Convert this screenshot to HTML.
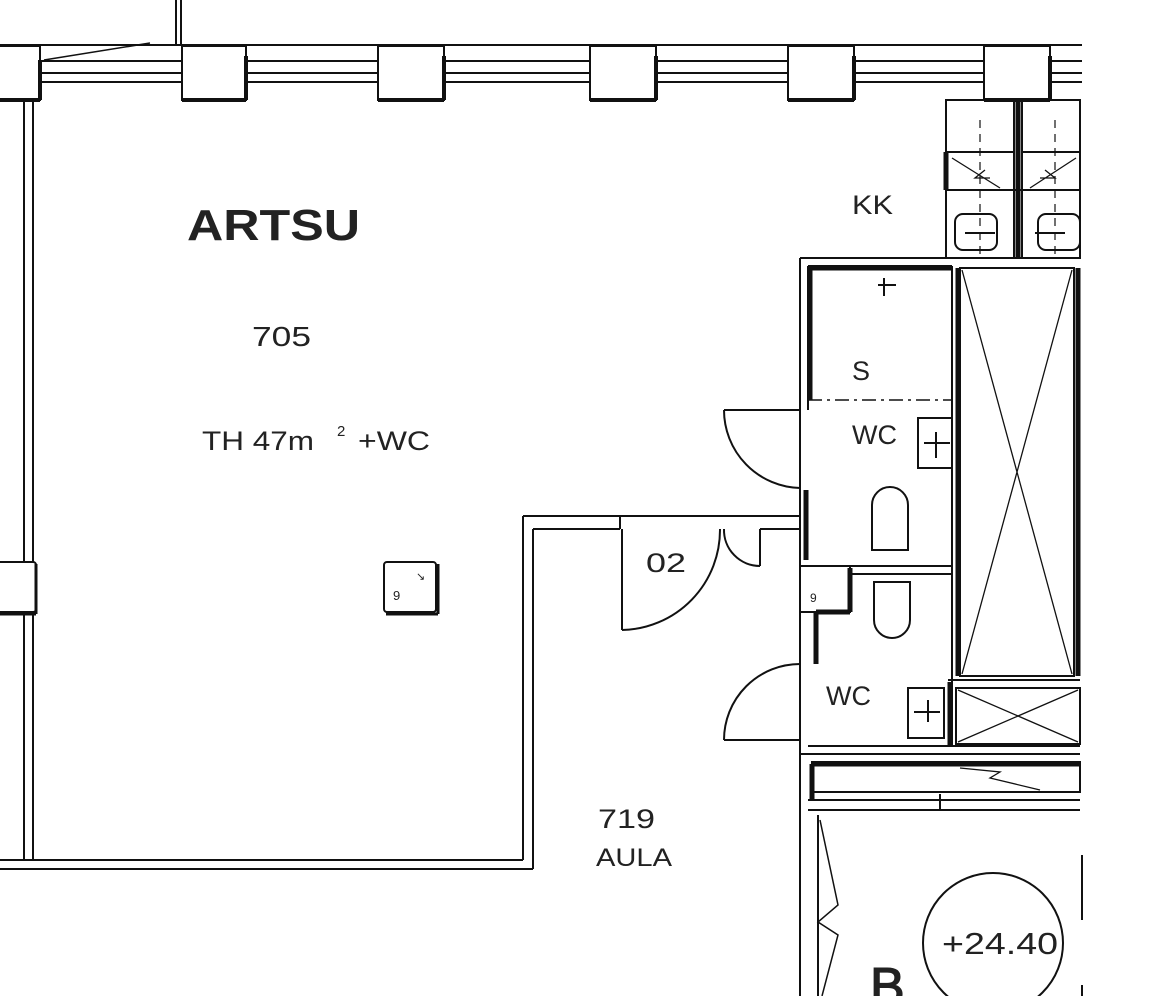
<!DOCTYPE html>
<html><head><meta charset="utf-8"><style>
html,body{margin:0;padding:0;background:#fff;}
svg{display:block}
text{font-family:"Liberation Sans",sans-serif;fill:#222}
</style></head><body>
<svg width="1152" height="996" viewBox="0 0 1152 996" xmlns="http://www.w3.org/2000/svg">
<g fill="none" stroke="#111" stroke-width="2">
<line x1="176" y1="0" x2="176" y2="44"/><line x1="181" y1="0" x2="181" y2="44"/>
<line x1="0" y1="45" x2="1082" y2="45"/>
<line x1="40" y1="61" x2="1082" y2="61"/>
<line x1="40" y1="73" x2="1082" y2="73"/>
<line x1="40" y1="82" x2="1082" y2="82"/>
<path d="M44 60 L150 43" stroke-width="1.5"/>
</g>
<g fill="#fff" stroke="#111" stroke-width="2">
<path d="M0 46 H40 V100 H0"/>
<rect x="182" y="46" width="64" height="54"/>
<rect x="378" y="46" width="66" height="54"/>
<rect x="590" y="46" width="66" height="54"/>
<rect x="788" y="46" width="66" height="54"/>
<rect x="984" y="46" width="66" height="54"/>
</g>
<g stroke="#111" stroke-width="4">
<line x1="0" y1="100" x2="40" y2="100"/><line x1="40" y1="60" x2="40" y2="100"/>
<line x1="182" y1="100" x2="246" y2="100"/><line x1="246" y1="56" x2="246" y2="100"/>
<line x1="378" y1="100" x2="444" y2="100"/><line x1="444" y1="56" x2="444" y2="100"/>
<line x1="590" y1="100" x2="656" y2="100"/><line x1="656" y1="56" x2="656" y2="100"/>
<line x1="788" y1="100" x2="854" y2="100"/><line x1="854" y1="56" x2="854" y2="100"/>
<line x1="984" y1="100" x2="1050" y2="100"/><line x1="1050" y1="56" x2="1050" y2="100"/>
</g>
<g fill="none" stroke="#111" stroke-width="2">
<line x1="24" y1="100" x2="24" y2="860"/><line x1="33" y1="100" x2="33" y2="860"/>
<line x1="0" y1="860" x2="523" y2="860"/><line x1="0" y1="869" x2="533" y2="869"/>
<line x1="523" y1="516" x2="523" y2="860"/><line x1="533" y1="529" x2="533" y2="869"/>
<line x1="523" y1="516" x2="800" y2="516"/><line x1="533" y1="529" x2="620" y2="529"/>
<line x1="620" y1="516" x2="620" y2="529"/><line x1="760" y1="529" x2="800" y2="529"/>
<line x1="622" y1="529" x2="622" y2="630"/>
<path d="M622 630 A100 100 0 0 0 720 529"/>
<line x1="760" y1="529" x2="760" y2="566"/>
<path d="M724 529 A36 36 0 0 0 760 566"/>
<line x1="724" y1="410" x2="800" y2="410"/>
<path d="M724 410 A78 78 0 0 0 800 488"/>
<line x1="724" y1="740" x2="800" y2="740"/>
<path d="M724 740 A76 76 0 0 1 800 664"/>
<line x1="800" y1="258" x2="800" y2="996"/><line x1="808" y1="266" x2="808" y2="410"/>
<line x1="800" y1="258" x2="1080" y2="258"/>
<line x1="808" y1="266" x2="952" y2="266"/>
<line x1="808" y1="746" x2="1080" y2="746"/><line x1="800" y1="754" x2="1080" y2="754"/>
<rect x="946" y="100" width="68" height="158"/>
<rect x="1022" y="100" width="58" height="158"/>
<line x1="946" y1="152" x2="1014" y2="152"/><line x1="1022" y1="152" x2="1080" y2="152"/>
<line x1="946" y1="190" x2="1080" y2="190"/>
<rect x="955" y="214" width="42" height="36" rx="8"/>
<rect x="1038" y="214" width="42" height="36" rx="8"/>
<path d="M952 158 L1000 188 M985 170 L975 178 L990 178" stroke-width="1.3"/>
<path d="M1076 158 L1030 188 M1045 170 L1055 178 L1040 178" stroke-width="1.3"/>
<line x1="980" y1="120" x2="980" y2="256" stroke-dasharray="8 6" stroke-width="1.2"/>
<line x1="1055" y1="120" x2="1055" y2="256" stroke-dasharray="8 6" stroke-width="1.2"/>
<line x1="965" y1="233" x2="995" y2="233"/><line x1="1035" y1="233" x2="1065" y2="233"/>
<line x1="952" y1="266" x2="952" y2="746"/>
<line x1="808" y1="400" x2="952" y2="400" stroke-dasharray="14 5 3 5" stroke-width="1.5"/>
<rect x="918" y="418" width="34" height="50"/>
<path d="M872 550 V505 A18 18 0 0 1 908 505 V550 Z"/>
<path d="M874 582 V620 A18 18 0 0 0 910 620 V582 Z"/>
<rect x="908" y="688" width="36" height="50"/>
<line x1="914" y1="712" x2="940" y2="712"/><line x1="928" y1="700" x2="928" y2="722"/>
<line x1="924" y1="443" x2="950" y2="443"/><line x1="936" y1="432" x2="936" y2="458"/>
<path d="M878 285 H896 M884 278 V296" />
<rect x="800" y="566" width="50" height="46"/>
<line x1="808" y1="566" x2="952" y2="566"/><line x1="850" y1="574" x2="952" y2="574"/>
<rect x="960" y="268" width="114" height="408"/>
<path d="M962 270 L1072 674 M1072 270 L962 674" stroke-width="1.3"/>
<rect x="956" y="688" width="124" height="56"/>
<path d="M958 690 L1078 742 M1078 690 L958 742" stroke-width="1.3"/>
<line x1="948" y1="680" x2="1080" y2="680"/>
<rect x="812" y="762" width="268" height="30"/>
<line x1="808" y1="800" x2="1080" y2="800"/><line x1="808" y1="810" x2="1080" y2="810"/>
<line x1="940" y1="794" x2="940" y2="810"/>
<path d="M960 768 L1000 772 L990 778 L1040 790" stroke-width="1.3"/>
<line x1="818" y1="815" x2="818" y2="996"/>
<path d="M820 820 L838 905 L818 922 L838 935 L822 996" stroke-width="1.5"/>
<line x1="1082" y1="855" x2="1082" y2="920" /><line x1="1082" y1="985" x2="1082" y2="996"/>
<circle cx="993" cy="943" r="70"/>
</g>
<g stroke="#111" stroke-width="5" fill="none">
<line x1="810" y1="268" x2="810" y2="400"/>
<line x1="808" y1="268" x2="952" y2="268"/>
<line x1="806" y1="490" x2="806" y2="560"/>
<line x1="958" y1="268" x2="958" y2="676"/><line x1="1078" y1="268" x2="1078" y2="676"/>
<line x1="1018" y1="100" x2="1018" y2="258"/>
<line x1="946" y1="152" x2="946" y2="190"/>
<line x1="850" y1="568" x2="850" y2="612"/><line x1="816" y1="612" x2="850" y2="612"/><line x1="816" y1="612" x2="816" y2="664"/>
<line x1="950" y1="682" x2="950" y2="746"/>
<line x1="812" y1="764" x2="1080" y2="764"/><line x1="812" y1="764" x2="812" y2="800"/>
</g>
<g fill="#fff" stroke="#111" stroke-width="2">
<rect x="384" y="562" width="52" height="50" rx="3"/>
<rect x="-4" y="562" width="40" height="50" rx="3"/>
</g>
<g stroke="#111" stroke-width="3"><line x1="386" y1="614" x2="438" y2="614"/><line x1="438" y1="564" x2="438" y2="614"/><line x1="36" y1="564" x2="36" y2="614"/><line x1="0" y1="614" x2="36" y2="614"/></g>
<text x="393" y="600" font-size="13">9</text><text x="416" y="580" font-size="11">↘</text>
<text x="810" y="602" font-size="12">9</text>
<text x="187" y="240" font-size="44" font-weight="bold" fill="#111" textLength="173" lengthAdjust="spacingAndGlyphs">ARTSU</text>
<text x="252" y="346" font-size="28" textLength="59" lengthAdjust="spacingAndGlyphs">705</text>
<text x="202" y="450" font-size="27" textLength="112" lengthAdjust="spacingAndGlyphs">TH  47m</text><text x="337" y="436" font-size="15">2</text><text x="358" y="450" font-size="27" textLength="72" lengthAdjust="spacingAndGlyphs">+WC</text>
<text x="852" y="214" font-size="27" textLength="41" lengthAdjust="spacingAndGlyphs">KK</text>
<text x="852" y="380" font-size="27" textLength="18" lengthAdjust="spacingAndGlyphs">S</text>
<text x="852" y="444" font-size="27" textLength="45" lengthAdjust="spacingAndGlyphs">WC</text>
<text x="826" y="705" font-size="27" textLength="45" lengthAdjust="spacingAndGlyphs">WC</text>
<text x="646" y="572" font-size="27" textLength="40" lengthAdjust="spacingAndGlyphs">02</text>
<text x="598" y="828" font-size="27" textLength="57" lengthAdjust="spacingAndGlyphs">719</text>
<text x="596" y="866" font-size="25" textLength="76" lengthAdjust="spacingAndGlyphs">AULA</text>
<text x="942" y="954" font-size="31" textLength="116" lengthAdjust="spacingAndGlyphs">+24.40</text>
<text x="870" y="1004" font-size="52" fill="none" stroke="#222" stroke-width="1.3">B</text>
</svg>
</body></html>
